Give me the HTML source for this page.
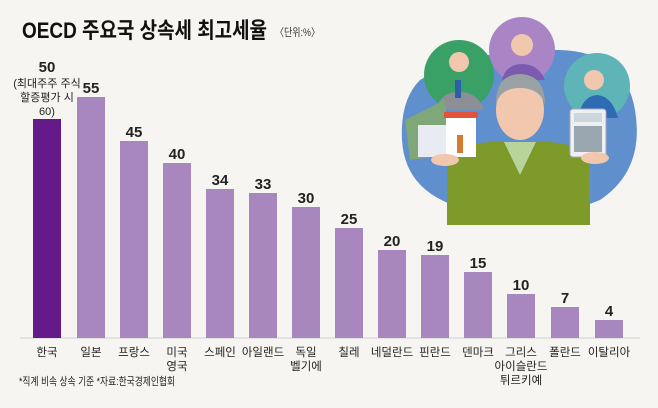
<!DOCTYPE html>
<html><head><meta charset="utf-8"><style>
body{margin:0;width:658px;height:403px;background:#f6f5f1;overflow:hidden;font-family:"Liberation Sans","Noto Sans CJK KR",sans-serif;}
</style></head><body>
<svg width="658" height="403" xmlns="http://www.w3.org/2000/svg" font-family="Liberation Sans, Noto Sans CJK KR, sans-serif">
<rect width="658" height="403" fill="#f6f5f1"/>
<text x="22" y="38" font-size="22" font-weight="bold" fill="#111" textLength="245" lengthAdjust="spacingAndGlyphs">OECD 주요국 상속세 최고세율</text>
<text x="275" y="36" font-size="11" fill="#333" textLength="45" lengthAdjust="spacingAndGlyphs">〈단위:%〉</text>
<!-- illustration -->
<g>
<path d="M420,80 Q470,48 560,50 Q625,52 635,110 Q645,170 600,200 Q540,225 470,210 Q405,195 402,140 Q400,100 420,80Z" fill="#5f8fcc"/>
<circle cx="459" cy="75" r="35" fill="#3aa166"/>
<circle cx="522" cy="50" r="33" fill="#a985c6"/>
<circle cx="597" cy="86" r="33" fill="#5fb4b7"/>
<path d="M436,110 Q440,92 459,92 Q478,92 484,110Z" fill="#8c8f96"/>
<circle cx="459" cy="62" r="10" fill="#f1c7ae"/>
<rect x="455" y="80" width="6" height="18" fill="#2d5ea8"/>
<path d="M502,80 Q506,64 522,64 Q538,64 545,80Z" fill="#7b5bb0"/>
<circle cx="522" cy="45" r="11" fill="#f1c7ae"/>
<path d="M578,118 Q582,96 597,95 Q612,96 618,118Z" fill="#2e6bb5"/>
<circle cx="594" cy="80" r="10" fill="#f1c7ae"/>
<path d="M447,168 Q450,145 490,142 L550,142 Q588,145 590,168 L590,225 L447,225Z" fill="#7d9a2b"/>
<path d="M504,142 L520,175 L536,142Z" fill="#b8d49a"/>
<ellipse cx="520" cy="110" rx="24" ry="30" fill="#f1c7ae"/>
<path d="M496,105 Q495,75 520,74 Q545,75 545,105 Q540,88 520,88 Q500,88 496,105Z" fill="#9aa1a4"/>
<path d="M405,120 L445,100 L450,155 L410,160Z" fill="#7fa777"/>
<rect x="418" y="125" width="30" height="32" fill="#e8ecf2"/>
<rect x="446" y="113" width="30" height="44" fill="#fff"/>
<rect x="444" y="112" width="34" height="6" fill="#e0543e"/>
<rect x="457" y="135" width="6" height="18" fill="#d57a30"/>
<rect x="570" y="109" width="36" height="48" rx="3" fill="#eef0f2" stroke="#aab" />
<rect x="574" y="113" width="28" height="9" fill="#ccd6dd"/>
<rect x="574" y="126" width="28" height="26" fill="#9aa6b0"/>
<ellipse cx="445" cy="160" rx="14" ry="6" fill="#f1c7ae"/>
<ellipse cx="595" cy="158" rx="14" ry="6" fill="#f1c7ae"/>
</g>
<!-- axis -->
<line x1="20" y1="338" x2="640" y2="338" stroke="#cfcfcf" stroke-width="1"/>
<g fill="#a886be">
<rect x="33" y="119" width="28" height="219" fill="#651a8a"/>
<rect x="77" y="97" width="28" height="241"/>
<rect x="120" y="141" width="28" height="197"/>
<rect x="163" y="163" width="28" height="175"/>
<rect x="206" y="189" width="28" height="149"/>
<rect x="249" y="193" width="28" height="145"/>
<rect x="292" y="207" width="28" height="131"/>
<rect x="335" y="228" width="28" height="110"/>
<rect x="378" y="250" width="28" height="88"/>
<rect x="421" y="255" width="28" height="83"/>
<rect x="464" y="272" width="28" height="66"/>
<rect x="507" y="294" width="28" height="44"/>
<rect x="551" y="307" width="28" height="31"/>
<rect x="595" y="320" width="28" height="18"/>
</g>
<g font-size="15" font-weight="bold" fill="#222" text-anchor="middle">
<text x="47" y="72">50</text>
<text x="91" y="93">55</text>
<text x="134" y="137">45</text>
<text x="177" y="159">40</text>
<text x="220" y="185">34</text>
<text x="263" y="189">33</text>
<text x="306" y="203">30</text>
<text x="349" y="224">25</text>
<text x="392" y="246">20</text>
<text x="435" y="251">19</text>
<text x="478" y="268">15</text>
<text x="521" y="290">10</text>
<text x="565" y="303">7</text>
<text x="609" y="316">4</text>
</g>
<g font-size="11" fill="#222" text-anchor="middle">
<text x="47" y="87">(최대주주 주식</text>
<text x="47" y="101">할증평가 시</text>
<text x="47" y="115">60)</text>
</g>
<g font-size="11.5" fill="#222" text-anchor="middle">
<text x="47" y="356">한국</text>
<text x="91" y="356">일본</text>
<text x="134" y="356">프랑스</text>
<text x="177" y="356">미국</text><text x="177" y="370">영국</text>
<text x="220" y="356">스페인</text>
<text x="263" y="356">아일랜드</text>
<text x="306" y="356">독일</text><text x="306" y="370">벨기에</text>
<text x="349" y="356">칠레</text>
<text x="392" y="356">네덜란드</text>
<text x="435" y="356">핀란드</text>
<text x="478" y="356">덴마크</text>
<text x="521" y="356">그리스</text><text x="521" y="370">아이슬란드</text><text x="521" y="384">튀르키예</text>
<text x="565" y="356">폴란드</text>
<text x="609" y="356">이탈리아</text>
</g>
<text x="19" y="385" font-size="11" fill="#222" textLength="156" lengthAdjust="spacingAndGlyphs">*직계 비속 상속 기준  *자료:한국경제인협회</text>
</svg>
</body></html>
